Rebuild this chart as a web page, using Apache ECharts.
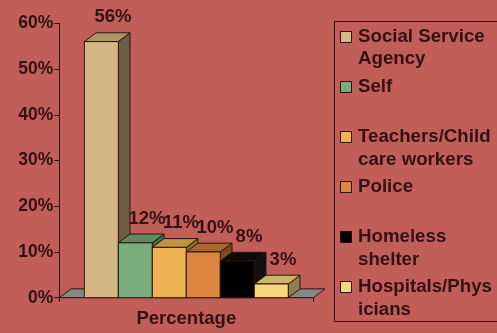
<!DOCTYPE html>
<html>
<head>
<meta charset="utf-8">
<script src="https://cdn.jsdelivr.net/npm/echarts@6/dist/echarts.min.js"></script>
<style>
  html, body { margin: 0; padding: 0; background: #C25E58; }
  #chart { width: 497px; height: 333px; }
</style>
</head>
<body>
<div id="chart"></div>
<script>
// Who the cases were referred by, as a share of all referrals
const categories = ['Social Service Agency', 'Self', 'Teachers/Child care workers', 'Police', 'Homeless shelter', 'Hospitals/Physicians'];
const legendLabels = ['Social Service\nAgency', 'Self', 'Teachers/Child\ncare workers', 'Police', 'Homeless\nshelter', 'Hospitals/Phys\nicians'];
const values = [56, 12, 11, 10, 8, 3];
const valueLabels = ['56%', '12%', '11%', '10%', '8%', '3%'];
const axisCategory = ['Percentage'];
const yMin = 0, yMax = 60, yStep = 10;

// Styling
const FONT = '"Liberation Sans", Arial, sans-serif';
const INK = '#331212';
const EDGE = '#2a130f';
const frontColors = ['#D5B785', '#79AD7B', '#EEB453', '#DC873D', '#000000', '#F8D67B'];
const topColors   = ['#AD9565', '#5E8C5F', '#BE943E', '#A8682C', '#0a0a0a', '#CDB565'];
const sideColors  = ['#6C5C42', '#446B47', '#8A6B2E', '#7A4A1F', '#101010', '#8F7F4C'];
const DX = 11.7, DY = -8.8;      // depth offset of the 3-D bars
const GAP = 0.197;                // share of the category band left empty

function renderBar(i) {
  return function (params, api) {
    const c = api.value(0);
    const v = api.value(1);
    const base = api.coord([c, 0]);
    const tip = api.coord([c, v]);
    const band = api.size([1, 0])[0];
    const used = band * (1 - GAP);
    const w = used / values.length;
    const x0 = base[0] - used / 2 + i * w;
    const x1 = x0 + w;
    const yb = base[1], yt = tip[1];
    const children = [];
    if (i === 0) {
      const cs = params.coordSys;
      children.push({
        type: 'polygon',
        shape: { points: [[cs.x, yb], [cs.x + DX, yb + DY], [cs.x + cs.width + DX, yb + DY], [cs.x + cs.width, yb]] },
        style: { fill: '#868686', stroke: EDGE, lineWidth: 1 }
      });
    }
    children.push({
      type: 'polygon',
      shape: { points: [[x1, yt], [x1 + DX, yt + DY], [x1 + DX, yb + DY], [x1, yb]] },
      style: { fill: sideColors[i], stroke: EDGE, lineWidth: 1 }
    });
    children.push({
      type: 'polygon',
      shape: { points: [[x0, yt], [x0 + DX, yt + DY], [x1 + DX, yt + DY], [x1, yt]] },
      style: { fill: topColors[i], stroke: EDGE, lineWidth: 1 }
    });
    children.push({
      type: 'rect',
      shape: { x: x0, y: yt, width: w, height: yb - yt },
      style: { fill: frontColors[i], stroke: EDGE, lineWidth: 1 }
    });
    children.push({
      type: 'text',
      style: {
        text: valueLabels[i],
        x: (x0 + x1) / 2 + DX,
        y: yt + DY - 6,
        align: 'center',
        verticalAlign: 'bottom',
        font: 'bold 18.5px ' + FONT,
        fill: INK
      }
    });
    return { type: 'group', children: children };
  };
}

const series = values.map(function (v, i) {
  return {
    type: 'custom',
    name: categories[i],
    clip: false,
    renderItem: renderBar(i),
    encode: { x: 0, y: 1 },
    data: [[0, v]]
  };
});

// Legend drawn as a framed list with a swatch beside the first line of each entry
const LEG_TOP = 36.7, LEG_STEP = 50.1, LEG_LINE = 22.5;
const legendGraphics = [{
  type: 'rect',
  shape: { x: 334.5, y: 21.5, width: 200, height: 300 },
  style: { fill: 'none', stroke: EDGE, lineWidth: 1 }
}];
legendLabels.forEach(function (t, i) {
  const cy = LEG_TOP + i * LEG_STEP;
  legendGraphics.push({
    type: 'rect',
    shape: { x: 340.5, y: Math.round(cy - 6) + 0.5, width: 11, height: 11 },
    style: { fill: frontColors[i], stroke: EDGE, lineWidth: 1 }
  });
  legendGraphics.push({
    type: 'text',
    style: {
      text: t,
      x: 358,
      y: cy - LEG_LINE / 2,
      verticalAlign: 'top',
      font: 'bold 18.7px ' + FONT,
      lineHeight: LEG_LINE,
      fill: INK
    }
  });
});

const chart = echarts.init(document.getElementById('chart'), null, { renderer: 'canvas' });
chart.setOption({
  backgroundColor: '#C25E58',
  animation: false,
  grid: { left: 59.3, top: 23.3, right: 183.7, bottom: 35.3, containLabel: false },
  xAxis: {
    type: 'category',
    data: axisCategory,
    axisLine: { show: true, lineStyle: { color: EDGE, width: 1 } },
    axisTick: { show: true, length: 4, lineStyle: { color: EDGE } },
    axisLabel: { color: INK, fontFamily: FONT, fontWeight: 'bold', fontSize: 18.5, margin: 12 },
    splitLine: { show: false }
  },
  yAxis: {
    type: 'value',
    min: yMin, max: yMax, interval: yStep,
    axisLine: { show: true, lineStyle: { color: EDGE, width: 1 } },
    axisTick: { show: true, length: 5, lineStyle: { color: EDGE } },
    axisLabel: { color: INK, fontFamily: FONT, fontWeight: 'bold', fontSize: 17.5, margin: 6, formatter: '{value}%' },
    splitLine: { show: false }
  },
  series: series,
  graphic: legendGraphics
});
</script>
</body>
</html>
